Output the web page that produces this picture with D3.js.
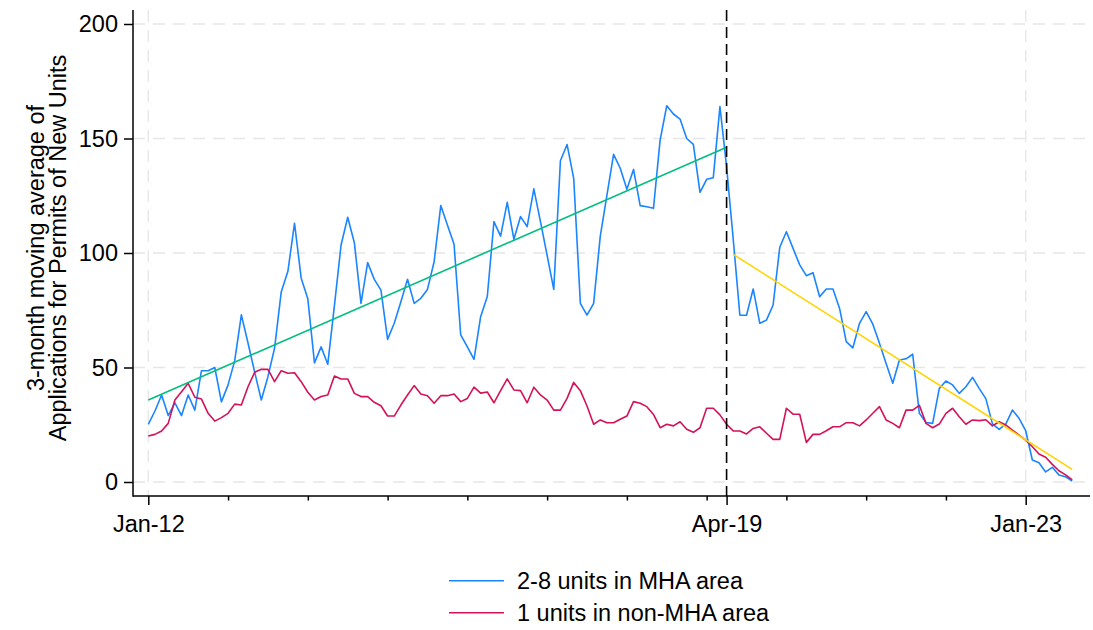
<!DOCTYPE html>
<html>
<head>
<meta charset="utf-8">
<script src="https://cdn.jsdelivr.net/npm/d3@7/dist/d3.min.js"></script>
<style>
  html, body { margin: 0; padding: 0; background: #fff; }
  svg { display: block; font-family: "Liberation Sans", Arial, sans-serif; }
</style>
</head>
<body>
<svg id="chart" width="1093" height="630"></svg>
<script>
// ---- data (monthly, starting Jan 2012) ----
const startYear = 2012;
const seriesNames = ["2-8 units in MHA area", "1 units in non-MHA area"];
const mhaValues = [
  25.2, 31, 38, 29, 34.6, 29, 38, 31.4, 48.6, 48.6, 50, 35,
  42.4, 53, 73, 60.7, 48, 35.8, 46, 58.5, 83, 92, 113, 89,
  80, 52, 59, 51.4, 77, 103.5, 115.6, 104.5, 78, 95.8, 88.5, 83.8,
  62.3, 69.3, 78.7, 88.5, 78, 80.2, 84.1, 96.2, 120.7, 112.2, 103.8, 64.2,
  59, 53.6, 72.2, 81, 113.7, 107.4, 122.1, 106, 115.9, 111.5, 128, 113.7,
  99, 84.1, 140.3, 147.4, 132.6, 78, 72.9, 78, 107.4, 125.3, 143.1, 137,
  127.8, 136.5, 120.7, 120.2, 119.5, 149.3, 164.3, 160.7, 158.5, 150, 147.4, 126.5,
  132.2, 132.9, 163.9, 137.7, 106, 72.8, 72.8, 84.3, 69.3, 70.7, 77.3, 102.5,
  109.3, 102, 94.8, 90.1, 91.4, 80.9, 84.3, 84.3, 75.8, 61.3, 58.6, 69.3,
  74.4, 68.9, 60.6, 51.8, 43.1, 53.3, 53.8, 55.8, 30, 26, 25.6, 40.9,
  44.1, 42.4, 38.7, 41.6, 45.7, 40.9, 36.4, 25.4, 23, 25.3, 31.4, 27.8,
  22.4, 9.6, 8.4, 4.4, 6.4, 3.1, 2.3, 0.4
];
const nonMhaValues = [
  20.1, 20.8, 22.3, 25.6, 35.8, 39.4, 43.1, 37, 36.2, 30, 26.6, 28.1,
  30, 34, 33.6, 41.6, 47.9, 49.2, 49.2, 43.8, 48.6, 47.5, 47.7, 43.8,
  39.2, 35.8, 37.3, 38, 46.3, 45, 45, 38.7, 37.3, 37.3, 34.8, 33.3,
  28.8, 28.8, 33.6, 38, 42.1, 38.4, 37.7, 34.4, 37.7, 37.7, 38.4, 35.1,
  36.5, 41.4, 38.8, 39.3, 34.6, 39.9, 45, 40.2, 39.9, 34.6, 41.4, 38,
  35.8, 31.4, 31.4, 36.5, 43.5, 39.9, 33.2, 25.2, 27.1, 25.9, 25.9, 27.4,
  28.8, 35.1, 34.4, 32.9, 29.5, 23.7, 25.2, 24.5, 26.3, 23, 21.7, 23.7,
  32.2, 32.2, 29.3, 25.2, 22.3, 22.3, 21, 23.4, 24.1, 21.3, 18.6, 18.6,
  32.2, 29.6, 29.6, 17.3, 20.8, 20.8, 22.4, 24.1, 24.1, 25.9, 25.9, 24.5,
  27.1, 30, 32.9, 27.1, 25.6, 23.7, 31.4, 31.4, 33.5, 25.6, 23.7, 25.3,
  30, 32.2, 28.5, 25.2, 27.1, 26.8, 27.2, 24.5, 26.3, 24.9, 22.7, 20.5,
  18.3, 15.4, 12.2, 10.8, 7.7, 4.9, 3.1, 0.9
];
// fitted trend lines (month index, value) before / after Apr-19
const trendPreMonths = [0, 87];
const trendPreValues = [35.8, 146.2];
const trendPostMonths = [88, 139];
const trendPostValues = [99.4, 5.5];
const breakMonth = 87; // Apr-19
const majorTickMonths = [0, 87, 132];
const majorTickLabels = ["Jan-12", "Apr-19", "Jan-23"];
const minorTickMonths = [12, 24, 36, 48, 60, 72, 84, 96, 108, 120];
const yTicks = [0, 50, 100, 150, 200];
const yTitle = ["3-month moving average of", "Applications for Permits of New Units"];

(function () {
// ---- styles ----
const colBlue = "#1a85ff", colRed = "#d41159", colGreen = "#00bf7f", colYellow = "#ffd400";
const fs = 23.5;

const svg = d3.select("#chart");
const x = d3.scaleLinear().domain([0, 132]).range([148.3, 1025.7]);
const y = d3.scaleLinear().domain([0, 200]).range([482, 24]);
const pLeft = 133, pRight = 1090, pTop = 10, pBottom = 496;

// grid
const g = svg.append("g");
g.selectAll(".hg").data(yTicks).join("line")
  .attr("x1", pLeft).attr("x2", pRight)
  .attr("y1", d => y(d)).attr("y2", d => y(d))
  .attr("stroke", "#e6e6e6").attr("stroke-width", 1.3).attr("stroke-dasharray", "12,8");
g.selectAll(".vg").data([0, 132]).join("line")
  .attr("x1", d => x(d)).attr("x2", d => x(d))
  .attr("y1", pTop).attr("y2", pBottom)
  .attr("stroke", "#e6e6e6").attr("stroke-width", 1.3).attr("stroke-dasharray", "12,8");

// series
const idx = d3.range(mhaValues.length);
const line = vals => d3.line().x(i => x(i)).y(i => y(vals[i]));
svg.append("path").datum(idx).attr("d", line(mhaValues))
  .attr("fill", "none").attr("stroke", colBlue).attr("stroke-width", 1.6).attr("stroke-linejoin", "round");
svg.append("path").datum(idx).attr("d", line(nonMhaValues))
  .attr("fill", "none").attr("stroke", colRed).attr("stroke-width", 1.6).attr("stroke-linejoin", "round");

// trends
const tl = d3.line().x(d => x(d[0])).y(d => y(d[1]));
svg.append("path").datum(d3.zip(trendPreMonths, trendPreValues)).attr("d", tl)
  .attr("fill", "none").attr("stroke", colGreen).attr("stroke-width", 1.6);
svg.append("path").datum(d3.zip(trendPostMonths, trendPostValues)).attr("d", tl)
  .attr("fill", "none").attr("stroke", colYellow).attr("stroke-width", 1.6);

// break line
svg.append("line").attr("x1", x(breakMonth)).attr("x2", x(breakMonth))
  .attr("y1", pTop).attr("y2", pBottom)
  .attr("stroke", "#000").attr("stroke-width", 1.6).attr("stroke-dasharray", "11,6");

// axes
const yAxis = d3.axisLeft(y).tickValues(yTicks).tickSize(9).tickPadding(6).tickFormat(d3.format("d"));
const ya = svg.append("g").attr("transform", `translate(${pLeft},0)`).call(yAxis);
ya.select(".domain").remove();
ya.selectAll("line").attr("stroke", "#000").attr("stroke-width", 1.5);
ya.selectAll("text").attr("font-size", fs).attr("fill", "#000").attr("font-family", "Liberation Sans, Arial, sans-serif");

const xAxis = d3.axisBottom(x).tickValues(majorTickMonths).tickSize(9).tickPadding(10)
  .tickFormat((d, i) => majorTickLabels[i]);
const xa = svg.append("g").attr("transform", `translate(0,${pBottom})`).call(xAxis);
xa.select(".domain").remove();
xa.selectAll("line").attr("stroke", "#000").attr("stroke-width", 1.5);
xa.selectAll("text").attr("font-size", fs).attr("fill", "#000").attr("font-family", "Liberation Sans, Arial, sans-serif");

const xMinor = d3.axisBottom(x).tickValues(minorTickMonths).tickSize(4.5).tickFormat("");
const xm = svg.append("g").attr("transform", `translate(0,${pBottom})`).call(xMinor);
xm.select(".domain").remove();
xm.selectAll("line").attr("stroke", "#000").attr("stroke-width", 1.5);

svg.append("line").attr("x1", pLeft).attr("x2", pLeft).attr("y1", pTop).attr("y2", pBottom + 0.75)
  .attr("stroke", "#000").attr("stroke-width", 1.5);
svg.append("line").attr("x1", pLeft).attr("x2", pRight).attr("y1", pBottom).attr("y2", pBottom)
  .attr("stroke", "#000").attr("stroke-width", 1.5);

// y title
const yt = svg.append("text").attr("transform", "translate(0,248) rotate(-90)")
  .attr("text-anchor", "middle").attr("font-size", fs).attr("fill", "#000");
yt.selectAll("tspan").data(yTitle).join("tspan")
  .attr("x", 0).attr("y", (d, i) => 44 + i * 22).text(d => d);

// legend
const legend = svg.append("g");
const lg = legend.selectAll("g").data(seriesNames).join("g")
  .attr("transform", (d, i) => `translate(0,${580.7 + i * 32})`);
lg.append("line").attr("x1", 449).attr("x2", 504).attr("y1", 0).attr("y2", 0)
  .attr("stroke", (d, i) => [colBlue, colRed][i]).attr("stroke-width", 1.6);
lg.append("text").attr("x", 517).attr("y", 8).attr("font-size", fs).attr("fill", "#000").text(d => d);
})();
</script>
</body>
</html>
